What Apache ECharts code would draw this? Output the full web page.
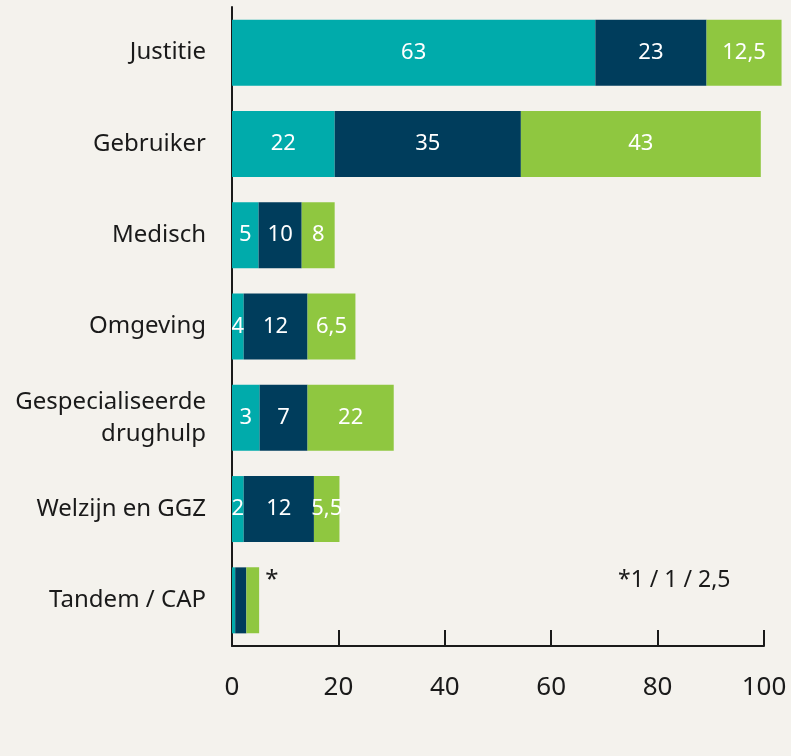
<!DOCTYPE html>
<html lang="nl">

<head>
    <meta charset="UTF-8">
    <title>Verwijzers</title>
    <script src="https://cdn.jsdelivr.net/npm/echarts@6/dist/echarts.min.js"></script>
    <style>
        body {
            margin: 0;
            background: #f4f2ed;
        }

        #chart {
            width: 791px;
            height: 756px;
        }
    </style>
</head>

<body>
    <div id="chart"></div>

    <script>
        // categorieen (van boven naar beneden)
        var categories = ['Justitie', 'Gebruiker', 'Medisch', 'Omgeving', 'Gespecialiseerde\ndrughulp', 'Welzijn en GGZ', 'Tandem / CAP'];

        // lengte van de balkdelen zoals getekend
        var teal = [68.3, 19.3, 5.0, 2.2, 5.2, 2.2, 0.6];
        var navy = [20.9, 35.0, 8.1, 12.0, 9.0, 13.2, 2.1];
        var green = [14.1, 45.1, 6.2, 9.0, 16.2, 4.8, 2.4];

        // getallen die in de balken staan
        var tealText = ['63', '22', '5', '4', '3', '2', ''];
        var navyText = ['23', '35', '10', '12', '7', '12', ''];
        var greenText = ['12,5', '43', '8', '6,5', '22', '5,5', '*'];

        var xTicks = [0, 20, 40, 60, 80, 100];
        var note = '*1 / 1 / 2,5';

        var font = '"Noto Sans", "Open Sans", sans-serif';

        function makeSeries(name, values, texts, color) {
            return {
                name: name,
                type: 'bar',
                stack: 'totaal',
                barWidth: 66,
                clip: false,
                itemStyle: { color: color },
                label: {
                    show: true,
                    position: 'inside',
                    color: '#ffffff',
                    fontFamily: font,
                    fontSize: 22,
                    formatter: function (p) { return texts[p.dataIndex]; }
                },
                data: values
            };
        }

        var greenSeries = makeSeries('groen', green, greenText, '#8fc740');
        // sterretje naast Tandem / CAP
        greenSeries.data = green.map(function (v, i) {
            if (i === 6) {
                return {
                    value: v,
                    label: { position: 'right', distance: 6, offset: [0, -20], color: '#1a1a1a', fontSize: 24 }
                };
            }
            return v;
        });

        var myChart = echarts.init(document.getElementById('chart'));
        myChart.setOption({
            backgroundColor: '#f4f2ed',
            animation: false,
            grid: {
                left: 232,
                right: 27,
                top: 7,
                bottom: 110
            },
            xAxis: {
                type: 'value',
                min: 0,
                max: xTicks[xTicks.length - 1],
                interval: 20,
                splitLine: { show: false },
                axisLine: { show: true, lineStyle: { color: '#1a1a1a', width: 2 } },
                axisTick: { show: true, inside: true, length: 16, lineStyle: { color: '#1a1a1a', width: 2 } },
                axisLabel: {
                    color: '#1a1a1a',
                    fontFamily: font,
                    fontSize: 26,
                    margin: 29
                }
            },
            yAxis: {
                type: 'category',
                inverse: true,
                data: categories,
                axisLine: { show: true, lineStyle: { color: '#1a1a1a', width: 2 } },
                axisTick: { show: false },
                axisLabel: {
                    color: '#1a1a1a',
                    fontFamily: font,
                    fontSize: 24,
                    lineHeight: 32,
                    margin: 26,
                    align: 'right'
                }
            },
            graphic: [{
                type: 'text',
                left: 618,
                top: 569,
                style: {
                    text: note,
                    fill: '#1a1a1a',
                    font: '23px "Noto Sans", sans-serif'
                }
            }],
            series: [
                makeSeries('teal', teal, tealText, '#00abab'),
                makeSeries('donker', navy, navyText, '#003d5c'),
                greenSeries
            ]
        });
    </script>
</body>

</html>
